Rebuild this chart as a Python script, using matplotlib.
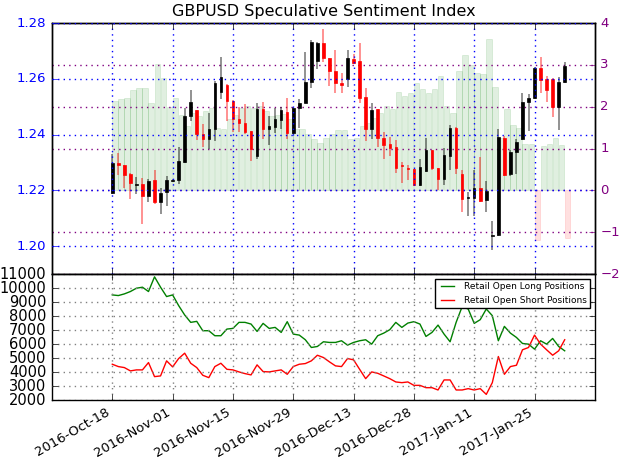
import matplotlib
matplotlib.use('Agg')
import matplotlib.pyplot as plt
from matplotlib.patches import Rectangle
from matplotlib.ticker import FormatStrFormatter
import numpy as np

plt.style.use('classic')

# tick dates, every 10 trading days
tick_pos = [0, 10, 20, 30, 40, 50, 60, 70]
tick_labels = ['2016-Oct-18', '2016-Nov-01', '2016-Nov-15', '2016-Nov-29',
               '2016-Dec-13', '2016-Dec-28', '2017-Jan-11', '2017-Jan-25']

opens = [1.2192, 1.2300, 1.2291, 1.2258, 1.2220, 1.2222, 1.2180, 1.2236, 1.2158, 1.2194,
         1.2234, 1.2237, 1.2303, 1.2468, 1.2489, 1.2402, 1.2386, 1.2422, 1.2554, 1.2578,
         1.2521, 1.2455, 1.2441, 1.2413, 1.2323, 1.2493, 1.2422, 1.2429, 1.2452, 1.2482,
         1.2407, 1.2494, 1.2515, 1.2589, 1.2665, 1.2728, 1.2674, 1.2629, 1.2587, 1.2599,
         1.2672, 1.2664, 1.2536, 1.2421, 1.2491, 1.2389, 1.2366, 1.2356, 1.2292, 1.2280,
         1.2278, 1.2219, 1.2269, 1.2344, 1.2281, 1.2242, 1.2323, 1.2425, 1.2260, 1.2172,
         1.2174, 1.2209, 1.2166, 1.2036, 1.2040, 1.2389, 1.2258, 1.2338, 1.2383, 1.2517,
         1.2533, 1.2638, 1.2600, 1.2600, 1.2501, 1.2588]
highs = [1.2329, 1.2336, 1.2293, 1.2264, 1.2249, 1.2246, 1.2242, 1.2273, 1.2210, 1.2252,
         1.2242, 1.2357, 1.2494, 1.2560, 1.2490, 1.2439, 1.2477, 1.2593, 1.2679, 1.2580,
         1.2524, 1.2501, 1.2509, 1.2414, 1.2515, 1.2517, 1.2467, 1.2494, 1.2501, 1.2533,
         1.2501, 1.2527, 1.2698, 1.2740, 1.2733, 1.2778, 1.2676, 1.2705, 1.2623, 1.2705,
         1.2690, 1.2728, 1.2569, 1.2512, 1.2493, 1.2409, 1.2393, 1.2381, 1.2302, 1.2291,
         1.2278, 1.2312, 1.2389, 1.2344, 1.2281, 1.2353, 1.2433, 1.2429, 1.2273, 1.2194,
         1.2272, 1.2319, 1.2233, 1.2089, 1.2420, 1.2396, 1.2345, 1.2383, 1.2549, 1.2545,
         1.2642, 1.2678, 1.2612, 1.2602, 1.2606, 1.2662]
lows = [1.2186, 1.2254, 1.2210, 1.2171, 1.2186, 1.2081, 1.2158, 1.2153, 1.2114, 1.2146,
        1.2232, 1.2222, 1.2300, 1.2449, 1.2381, 1.2357, 1.2350, 1.2378, 1.2527, 1.2450,
        1.2410, 1.2408, 1.2402, 1.2306, 1.2311, 1.2383, 1.2362, 1.2407, 1.2419, 1.2386,
        1.2401, 1.2425, 1.2512, 1.2569, 1.2635, 1.2659, 1.2575, 1.2548, 1.2551, 1.2570,
        1.2655, 1.2515, 1.2377, 1.2383, 1.2357, 1.2314, 1.2323, 1.2263, 1.2228, 1.2239,
        1.2216, 1.2216, 1.2266, 1.2273, 1.2201, 1.2219, 1.2273, 1.2260, 1.2122, 1.2108,
        1.2110, 1.2160, 1.2121, 1.1988, 1.2038, 1.2252, 1.2252, 1.2258, 1.2381, 1.2413,
        1.2527, 1.2549, 1.2517, 1.2465, 1.2416, 1.2585]
closes = [1.2299, 1.2290, 1.2254, 1.2225, 1.2222, 1.2180, 1.2235, 1.2158, 1.2192, 1.2236,
          1.2238, 1.2306, 1.2468, 1.2519, 1.2402, 1.2386, 1.2422, 1.2587, 1.2608, 1.2521,
          1.2455, 1.2441, 1.2410, 1.2350, 1.2493, 1.2422, 1.2430, 1.2455, 1.2488, 1.2407,
          1.2497, 1.2515, 1.2590, 1.2733, 1.2728, 1.2674, 1.2629, 1.2584, 1.2577, 1.2676,
          1.2658, 1.2533, 1.2421, 1.2488, 1.2388, 1.2363, 1.2353, 1.2281, 1.2288, 1.2276,
          1.2219, 1.2285, 1.2345, 1.2279, 1.2242, 1.2326, 1.2425, 1.2281, 1.2170, 1.2175,
          1.2208, 1.2162, 1.2197, 1.2040, 1.2390, 1.2254, 1.2338, 1.2374, 1.2517, 1.2533,
          1.2638, 1.2597, 1.2561, 1.2501, 1.2590, 1.2648]

ssi = [2.14, 2.18, 2.22, 2.41, 2.44, 2.46, 2.10, 3.02, 2.70, 1.99,
       2.21, 1.80, 1.53, 1.86, 1.78, 1.90, 1.98, 1.50, 1.46, 1.70,
       1.80, 1.98, 2.01, 1.98, 2.02, 1.90, 1.78, 1.80, 1.82, 1.70,
       1.48, 1.48, 1.34, 1.22, 1.13, 1.26, 1.34, 1.44, 1.44, 1.22,
       1.26, 1.53, 1.62, 1.74, 1.86, 2.01, 1.95, 2.36, 2.25, 2.33,
       2.57, 2.42, 2.33, 2.42, 2.74, 2.01, 1.85, 2.85, 3.24, 3.00,
       2.82, 2.78, 3.62, 2.48, 1.25, 1.94, 1.56, 1.50, 1.10, 1.10,
       -1.18, 1.06, 1.10, 1.26, 1.08, -1.14]

long_pos = [9512, 9466, 9585, 9754, 9991, 10063, 9754, 10805, 10063, 9395,
            9512, 8749, 8078, 7550, 7622, 6954, 6954, 6595, 6595, 7071,
            7119, 7550, 7550, 7430, 6904, 7478, 7119, 7191, 6832, 7600,
            6712, 6640, 6308, 5755, 5827, 6164, 6116, 6116, 6236, 5922,
            6116, 6236, 6308, 5994, 6595, 6782, 7026, 7550, 7191, 7500,
            7600, 7430, 6545, 6832, 7356, 6712, 6164, 7550, 8677, 8505,
            7478, 7744, 8505, 8031, 6236, 7263, 6782, 6473, 6042, 5994,
            5635, 6236, 5994, 6401, 5827, 5518]
short_pos = [4558, 4391, 4319, 4082, 4154, 4154, 4678, 3673, 3723, 4800,
             4369, 4966, 5348, 4628, 4319, 3769, 3601, 4391, 4628, 4197,
             4154, 4010, 3888, 3795, 4513, 4034, 4010, 4082, 4154, 3840,
             4391, 4558, 4606, 4800, 5202, 5037, 4728, 4441, 4391, 4966,
             4871, 4197, 3529, 4010, 3912, 3723, 3529, 3292, 3242, 3292,
             3048, 3048, 2883, 2883, 2718, 3436, 3436, 2718, 2718, 2814,
             2718, 2814, 2404, 3242, 5109, 3840, 4391, 4486, 5590, 5755,
             6640, 5994, 5590, 5202, 5518, 6308]

x = np.arange(len(closes))

fig = plt.figure(figsize=(6.24, 4.63), dpi=100, facecolor='white')
ax = fig.add_axes([0.0833, 0.408, 0.870, 0.542])
ax2 = ax.twinx()
ax3 = fig.add_axes([0.0833, 0.136, 0.870, 0.272])

# sentiment bars (right axis)
bar_cols = ['green' if v > 0 else 'red' for v in ssi]
ax2.bar(x, ssi, width=0.9, align='edge', color=bar_cols, edgecolor=bar_cols,
        alpha=0.12, linewidth=0.6)
ax2.set_ylim(-2, 4)
ax2.set_yticks(range(-2, 5))
ax2.tick_params(axis='y', colors='purple', labelsize=9.5)
ax2.yaxis.grid(True, color='purple', linestyle=':', linewidth=1)

# candles on top of the bars
ax.set_zorder(ax2.get_zorder() + 1)
ax.patch.set_visible(False)
w = 0.42
for i in x:
    o, h, l, c = opens[i], highs[i], lows[i], closes[i]
    col = 'k' if c >= o else 'r'
    ax.vlines(i, l, h, color=col, alpha=0.5, linewidth=1.2)
    ax.add_patch(Rectangle((i - w / 2, min(o, c)), w, max(abs(c - o), 0.0003),
                           facecolor=col, edgecolor=col, linewidth=0.5))
ax.set_xlim(-10, 80)
ax.set_ylim(1.19, 1.28)
ax.set_yticks([1.20, 1.22, 1.24, 1.26, 1.28])
ax.yaxis.set_major_formatter(FormatStrFormatter('%.2f'))
ax.tick_params(axis='y', colors='b', labelsize=9.5)
ax.set_xticks(tick_pos)
ax.tick_params(labelbottom=False)
ax.grid(True, color='b', linestyle=':', linewidth=1)
ax.set_title('GBPUSD Speculative Sentiment Index', fontsize=11.5)

# positions panel
ax3.plot(x, long_pos, color='g', linewidth=1, label='Retail Open Long Positions')
ax3.plot(x, short_pos, color='r', linewidth=1, label='Retail Open Short Positions')
ax3.set_xlim(-10, 80)
ax3.set_ylim(2000, 11000)
ax3.set_yticks(range(2000, 11001, 1000))
ax3.set_xticks(tick_pos)
ax3.set_xticklabels(tick_labels, rotation=30, ha='right')
ax3.tick_params(axis='y', labelsize=10.5)
ax3.tick_params(axis='x', labelsize=9.5)
ax3.grid(True, color='gray', linestyle=':', linewidth=1)
ax3.legend(loc='upper right', fontsize=6.5)

fig.savefig('out.png', dpi=100, facecolor='white')
